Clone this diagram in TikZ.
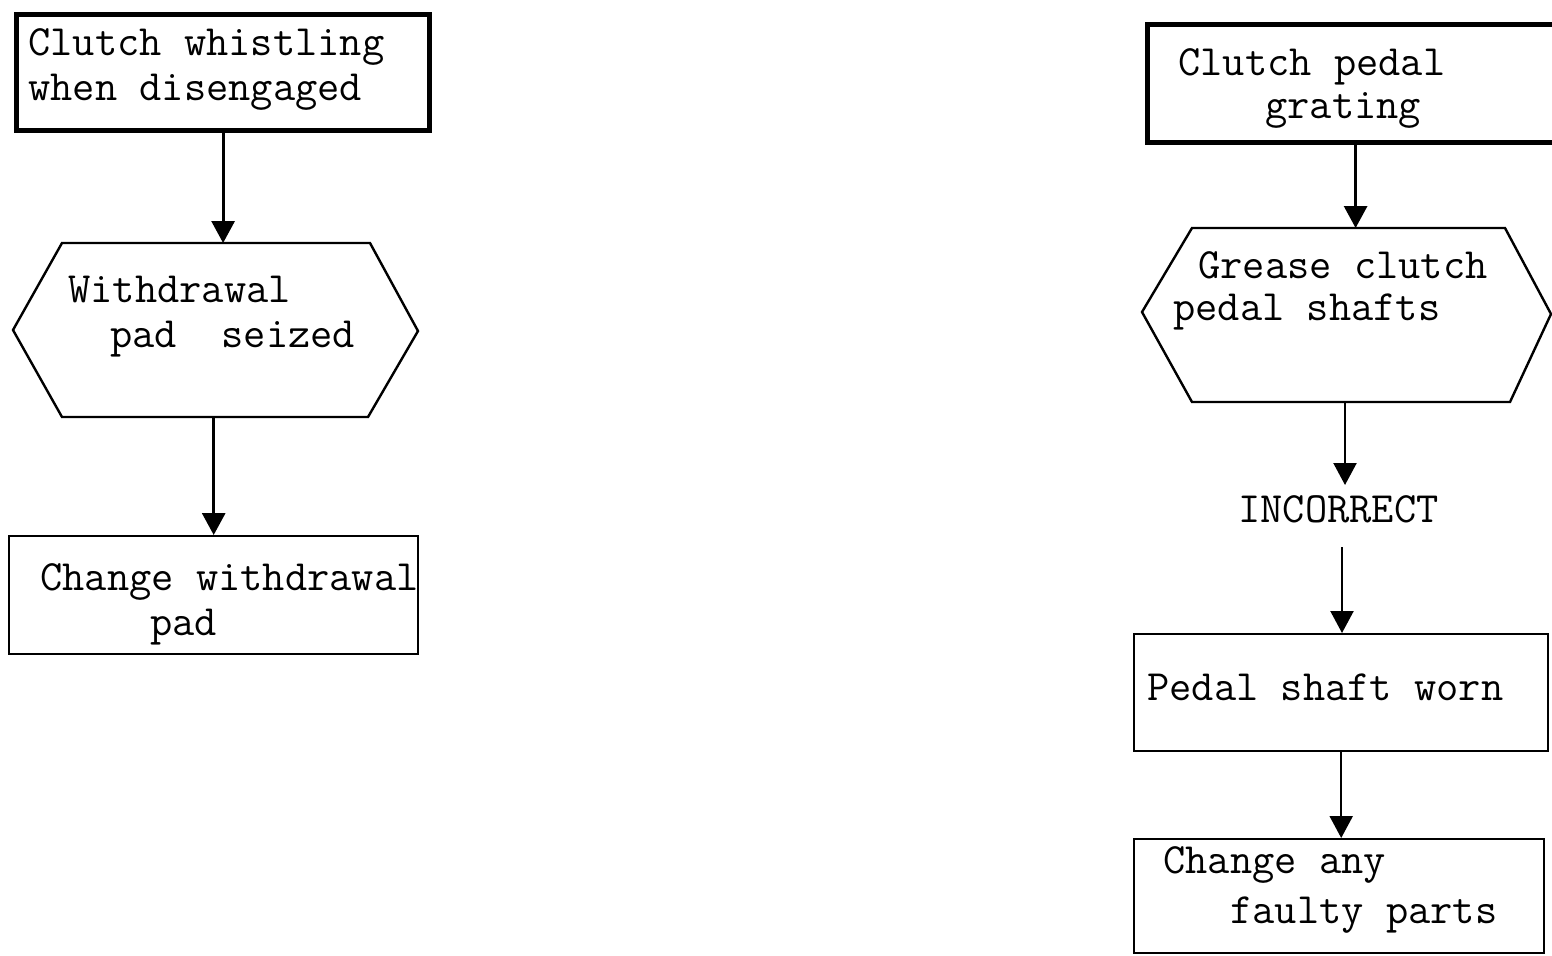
\documentclass[tikz,border=0pt]{standalone}
\usetikzlibrary{arrows.meta}
\begin{document}
\begin{tikzpicture}[x=0.5pt,y=-0.5pt,
  frame/.style={draw, line width=1.2pt, inner sep=0pt, anchor=north west},
  heavyframe/.style={frame, line width=2.6pt},
  slot/.style={inner sep=0pt, anchor=north west},
  hexline/.style={draw, line width=1.2pt, line join=miter},
  txt/.style={anchor=base west, inner sep=0pt, font=\fontsize{21.6}{23}\selectfont\ttfamily},
  flow/.style={line width=1.5pt, -{Triangle[width=11.5pt,length=11pt]}},
  thinflow/.style={line width=1.1pt, -{Triangle[width=11.5pt,length=11pt]}}]
\useasboundingbox (0,0) rectangle (1552,955);

% ---- left column ----
\node[heavyframe, minimum width=206.5pt, minimum height=58pt] (b1) at (14,12) {};
\node[txt] (b1a) at (28,55) {Clutch whistling};
\node[txt] (b1b) at (28,100) {when disengaged};

\node[slot, minimum width=202.5pt, minimum height=87pt] (h1) at (13,243) {};
\draw[hexline] (62,243) -- (370,243) -- (418,331) -- (368,417) -- (62,417) -- (13,330) -- cycle;
\node[txt] (h1a) at (68,302) {Withdrawal};
\node[txt] (h1b) at (110,347) {pad~~seized};

\node[frame, minimum width=204.5pt, minimum height=59pt] (b3) at (8,535) {};
\node[txt] (b3a) at (40,590) {Change withdrawal};
\node[txt] (b3b) at (150,635) {pad};

\draw[flow] (b1.south) -- (b1.south |- h1.north);
\draw[flow] (h1.south -| b3.north) -- (b3.north);

% ---- right column ----
\node[heavyframe, minimum width=208pt, minimum height=59pt] (r1) at (1145,22) {};
\node[txt] (r1a) at (1178,75) {Clutch pedal};
\node[txt] (r1b) at (1265,118) {grating};

\node[slot, minimum width=205pt, minimum height=87pt] (r2) at (1142,228) {};
\draw[hexline] (1192,228) -- (1505,228) -- (1551,314) -- (1510,402) -- (1192,402) -- (1142,312) -- cycle;
\node[txt] (r2a) at (1198,278) {Grease clutch};
\node[txt] (r2b) at (1173,320) {pedal shafts};

\node[txt] (inc) at (1238,522) {INCORRECT};
\coordinate (incTop) at (1345,485);
\coordinate (incBot) at (1342,547);

\node[frame, minimum width=207pt, minimum height=58.5pt] (r4) at (1133,633) {};
\node[txt] (r4a) at (1147,700) {Pedal shaft worn};

\node[frame, minimum width=205pt, minimum height=57pt] (r5) at (1133,838) {};
\node[txt] (r5a) at (1163,873) {Change any};
\node[txt] (r5b) at (1230,923) {faulty parts};

\draw[flow] (r1.south) -- (r1.south |- r2.north);
\draw[thinflow] (r2.south -| incTop) -- (incTop);
\draw[thinflow] (incBot) -- (incBot |- r4.north);
\draw[thinflow] (r4.south) -- (r4.south |- r5.north);
\end{tikzpicture}
\end{document}
